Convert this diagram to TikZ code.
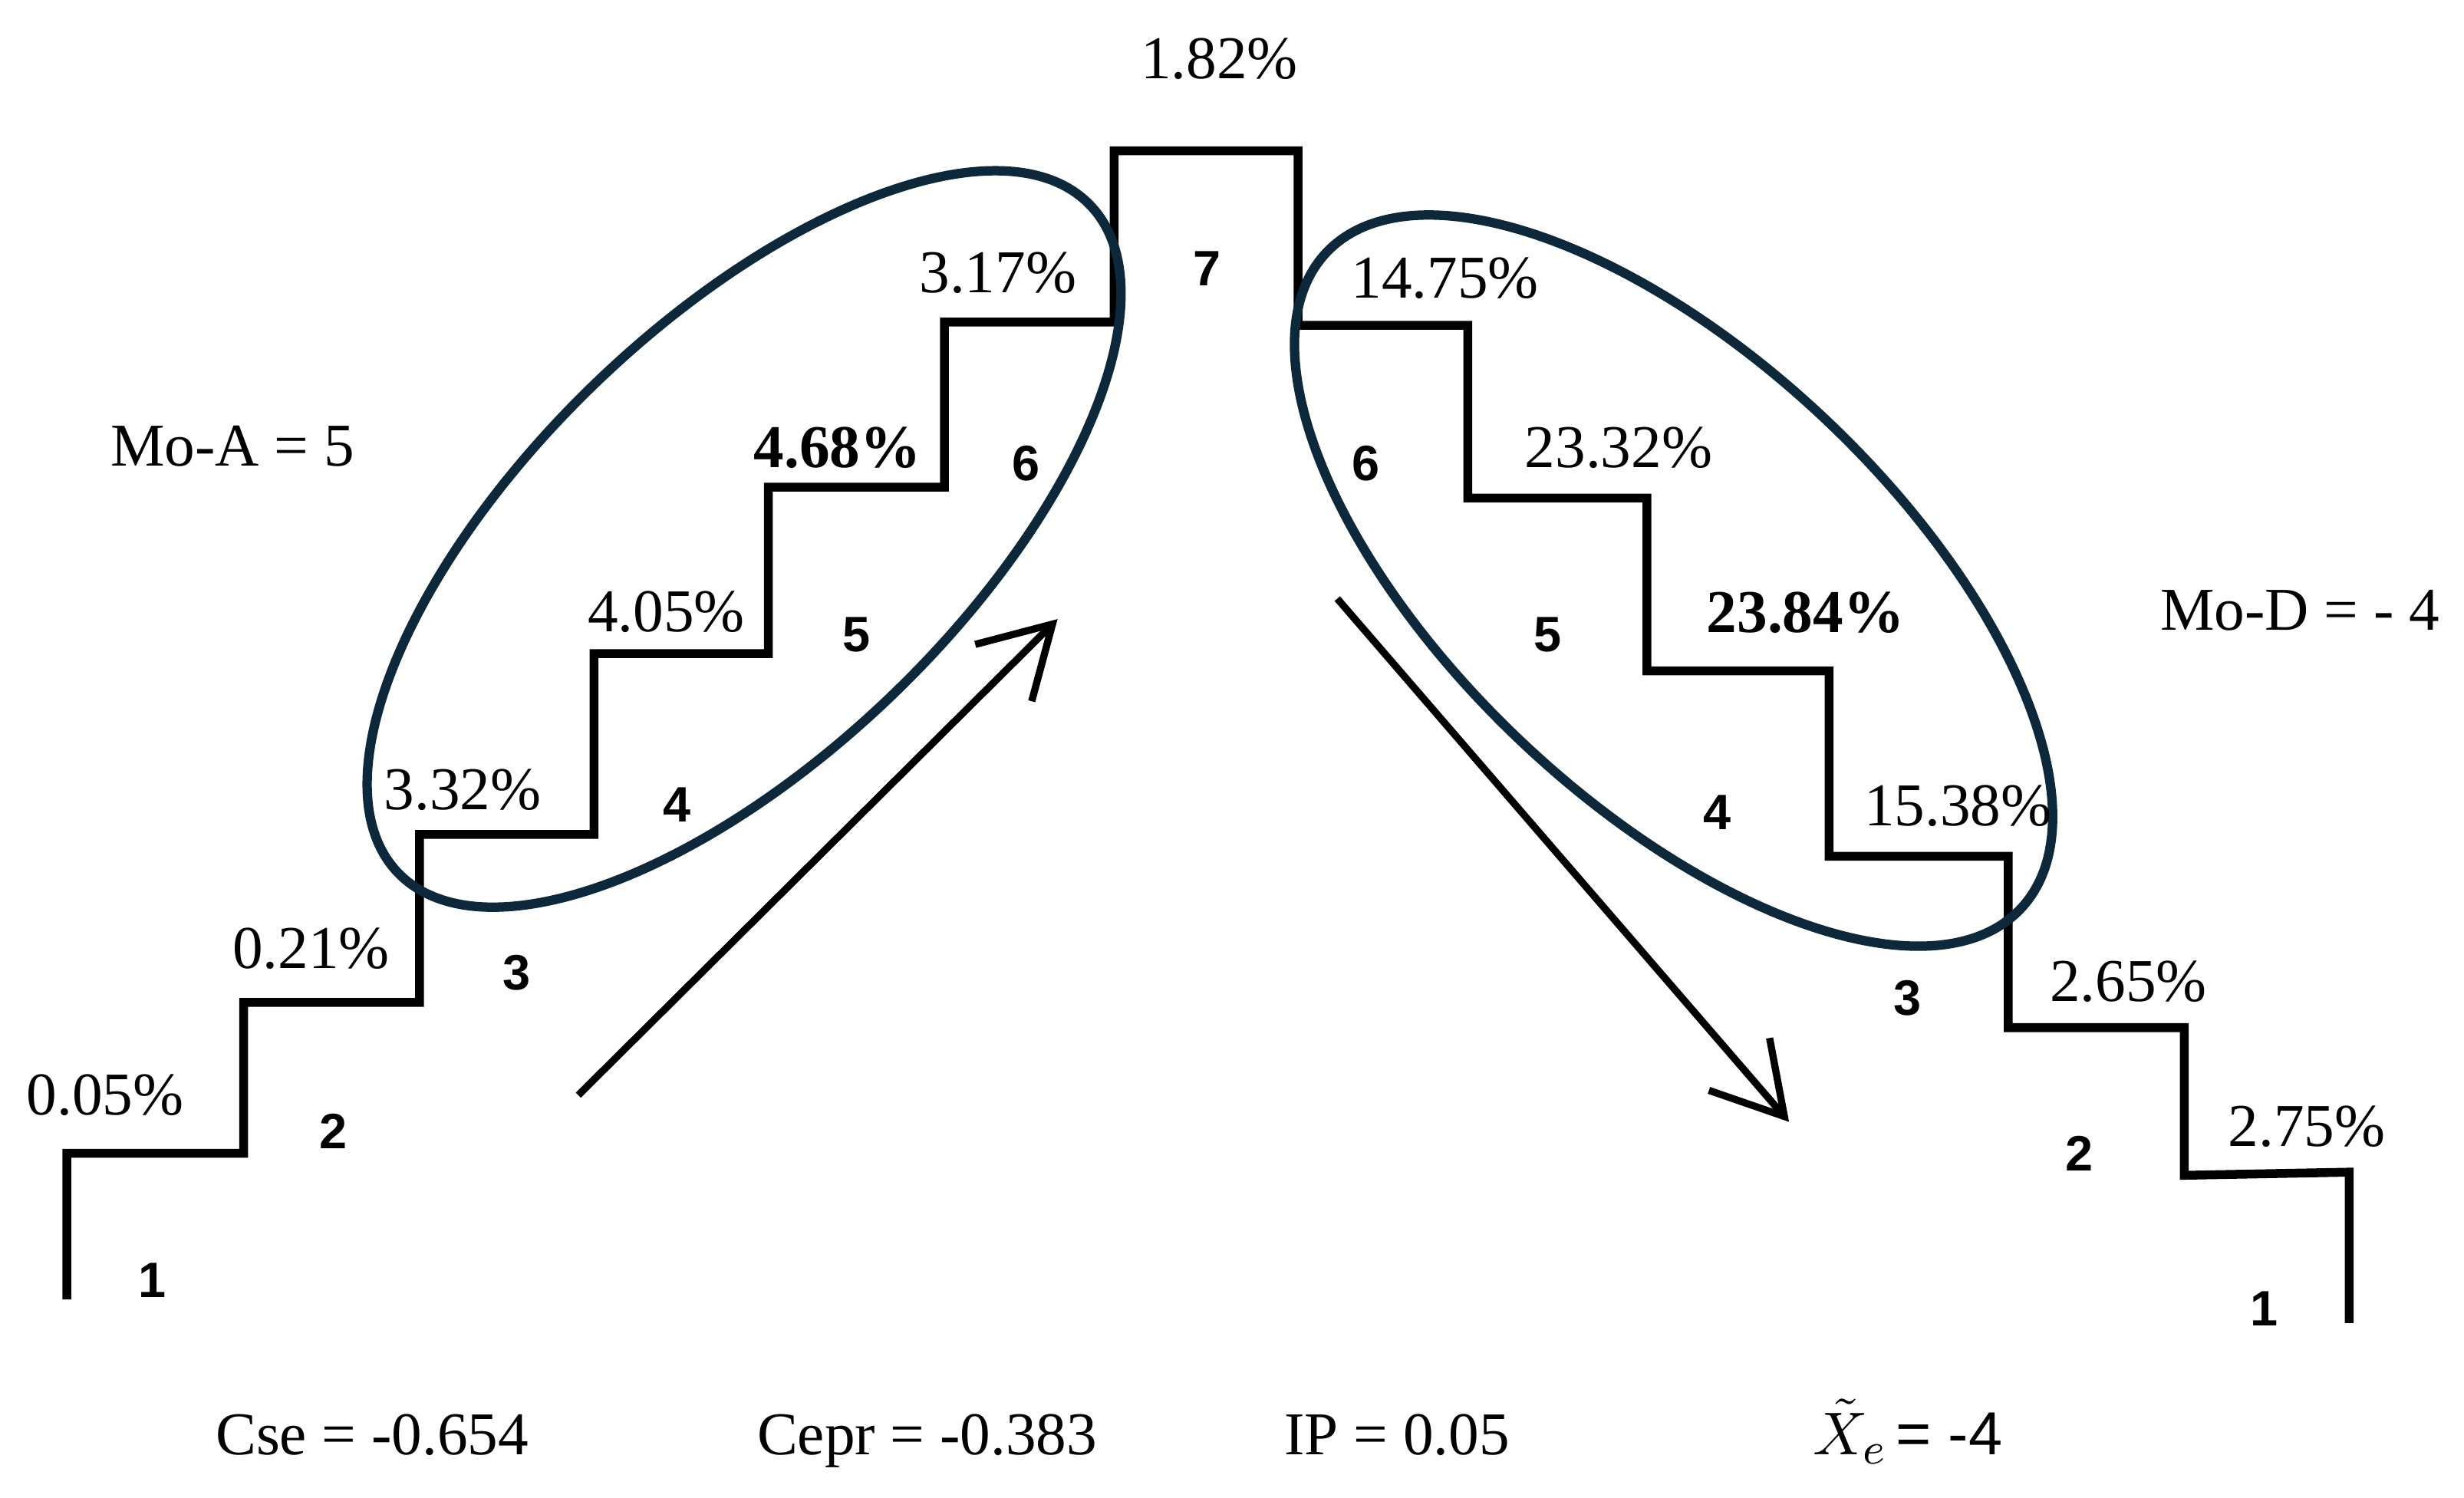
\documentclass[tikz,border=0pt]{standalone}
\usepackage{fontspec}
\setmainfont{Liberation Serif}
\newfontfamily\numfont{Liberation Sans}
\usetikzlibrary{arrows.meta}
\definecolor{ellcol}{RGB}{12,40,58}
\begin{document}
\begin{tikzpicture}[x=0.01cm,y=-0.01cm,
  stair/.style={line width=1.6pt, line join=miter},
  ring/.style={draw=ellcol, line width=1.7pt},
  trend/.style={line width=1.3pt, -{Straight Barb[length=12.5pt,width=14.5pt]}},
  pct/.style={font=\fontsize{11}{13}\selectfont, anchor=base, inner sep=0pt},
  lvl/.style={font=\numfont\bfseries\fontsize{9}{11}\selectfont, inner sep=0pt},
  stat/.style={font=\fontsize{11}{13}\selectfont, anchor=base, inner sep=0pt}]

\useasboundingbox[fill=white] (0,0) rectangle (1568,953);

% staircase
\draw[stair] (42.5,827) -- (42.5,734) -- (155,734) -- (155,638) -- (267,638)
  -- (267,531) -- (378,531) -- (378,416) -- (489,416) -- (489,310) -- (601,310)
  -- (601,205) -- (709,205) -- (709,96) -- (826,96) -- (826,207) -- (934,207)
  -- (934,317) -- (1048,317) -- (1048,427) -- (1164,427) -- (1164,545)
  -- (1278,545) -- (1278,654) -- (1390,654) -- (1390,748) -- (1495,746)
  -- (1495,842);

% ellipses
\draw[ring, rotate around={44:(473.5,343)}] (473.5,343) ellipse [x radius=306, y radius=137];
\draw[ring, rotate around={-43.4:(1065,369.5)}] (1065,369.5) ellipse [x radius=304, y radius=141];

% arrows
\coordinate (upS) at (368,697);
\coordinate (upE) at (673,394);
\coordinate (dnS) at (851,381);
\coordinate (dnE) at (1138.5,714);
\draw[trend] (upS) -- (upE);
\draw[trend] (dnS) -- (dnE);

% step numbers
\node[lvl] (l1) at (97,815) {1};
\node[lvl] (l2) at (212,720) {2};
\node[lvl] (l3) at (329,619) {3};
\node[lvl] (l4) at (431,512) {4};
\node[lvl] (l5) at (545,404) {5};
\node[lvl] (l6) at (653,295) {6};
\node[lvl] (l7) at (768,171) {7};
\node[lvl] (r6) at (869,295) {6};
\node[lvl] (r5) at (985,404) {5};
\node[lvl] (r4) at (1093,517) {4};
\node[lvl] (r3) at (1214,635) {3};
\node[lvl] (r2) at (1323,734) {2};
\node[lvl] (r1) at (1441,833) {1};

% percentages
\node[pct] (p1) at (67,709.5) {0.05\%};
\node[pct] (p2) at (198,616.5) {0.21\%};
\node[pct] (p3) at (294.5,515) {3.32\%};
\node[pct] (p4) at (424,402) {4.05\%};
\node[pct] (p5) at (533,297.5) {\bfseries 4.68\%};
\node[pct] (p6) at (635,186) {3.17\%};
\node[pct] (p7) at (776,50) {1.82\%};
\node[pct] (q6) at (919.5,189.5) {14.75\%};
\node[pct] (q5) at (1030,297.5) {23.32\%};
\node[pct] (q4) at (1149,402.5) {\bfseries 23.84\%};
\node[pct] (q3) at (1246,525.5) {15.38\%};
\node[pct] (q2) at (1354.5,637.5) {2.65\%};
\node[pct] (q1) at (1468,729.5) {2.75\%};

% statistics
\node[stat] (moa) at (148,296.5) {Mo-A = 5};
\node[stat] (mod) at (1463.5,401) {Mo-D = - 4};
\node[stat] (cse) at (236.8,926) {Cse = -0.654};
\node[stat] (cepr) at (590,926) {Cepr = -0.383};
\node[stat] (ip) at (889,926) {IP = 0.05};
\node[stat] (xe) at (1214,926) {$\tilde{X}_e$\kern1.5pt{\numfont= -4}};
\end{tikzpicture}
\end{document}
